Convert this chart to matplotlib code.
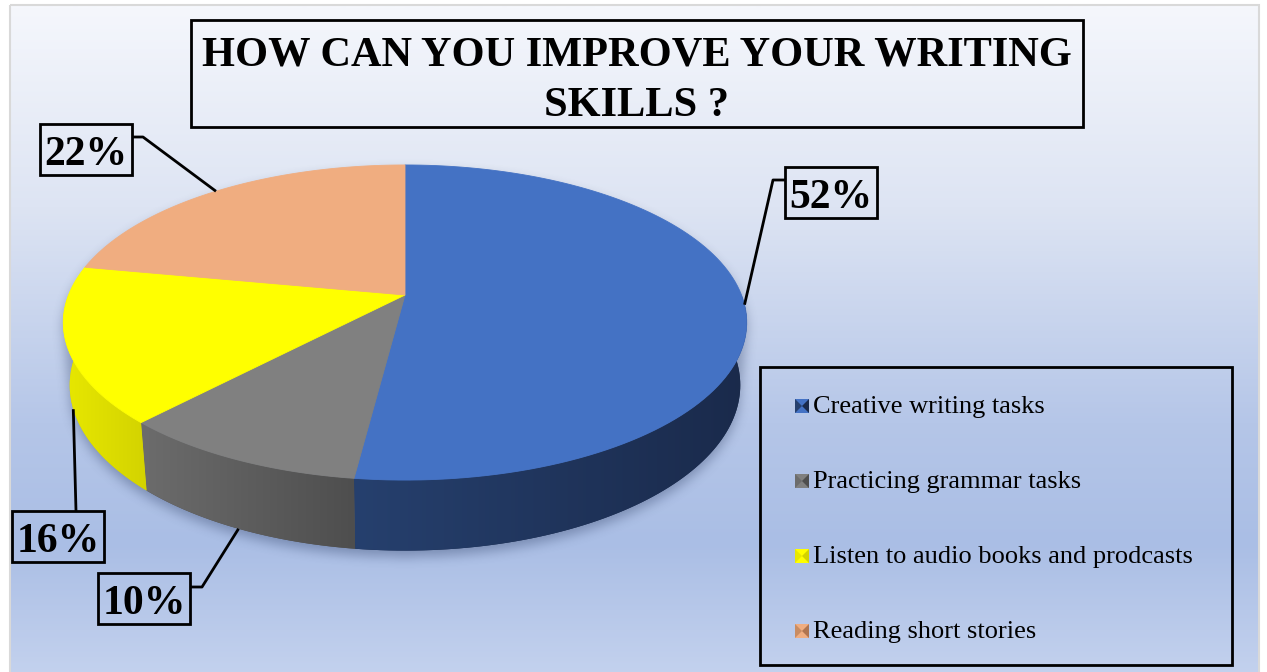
import numpy as np
import matplotlib.pyplot as plt
from matplotlib.patches import Polygon, Rectangle
from matplotlib.path import Path
from matplotlib.colors import LinearSegmentedColormap, to_rgb

plt.rcParams['font.family'] = ['Liberation Serif', 'DejaVu Serif']

# survey answers
categories = ['Creative writing tasks', 'Practicing grammar tasks',
              'Listen to audio books and prodcasts', 'Reading short stories']
shares = [52, 10, 16, 22]
pct_labels = [f'{v}%' for v in shares]
title_lines = ['HOW CAN YOU IMPROVE YOUR WRITING', 'SKILLS ?']

top_colors = ['#4472C4', '#808080', '#FFFF00', '#F0AD80']
side_light = ['#26406E', '#6C6C6C', '#E8E800', '#C98C62']
side_dark = ['#1A2A4B', '#4E4E4E', '#D3D300', '#B07550']

W, H = 1267, 672
fig = plt.figure(figsize=(W / 100, H / 100), dpi=100)
ax = fig.add_axes([0, 0, 1, 1])
ax.set_xlim(0, W)
ax.set_ylim(H, 0)
ax.axis('off')

# chart area background
bg = LinearSegmentedColormap.from_list('bg', [(0, '#F5F7FC'), (0.3, '#DDE4F3'),
                                              (0.62, '#B5C6E8'), (0.8, '#AABEE5'),
                                              (1, '#C4D2EE')])
ax.imshow(np.linspace(0, 1, 300)[:, None], cmap=bg, extent=(10, 1259, 680, 5),
          aspect='auto', interpolation='bilinear', zorder=0)
ax.add_patch(Rectangle((10, 5), 1249, 680, fill=False, ec='#D9D9D9', lw=1.5, zorder=1))

# perspective view of a tilted disc
CX, CY = 405, 295
ELEV = np.radians(27)
DIST = 5.10
FOC = 1716
THICK = 0.21


def project(phi, r=1.0, h=0.0):
    phi = np.radians(phi)
    x3 = r * np.sin(phi)
    w3 = r * np.cos(phi)
    z = w3 * np.cos(ELEV) - h * np.sin(ELEV) + DIST
    up = (w3 * np.sin(ELEV) + h * np.cos(ELEV)) / z
    return CX + FOC * x3 / z, CY - FOC * up


def box1d(a, r, axis):
    a = np.moveaxis(a, axis, 0)
    p = np.pad(a, ((r + 1, r), (0, 0)), mode='edge')
    c = np.cumsum(p, axis=0)
    return np.moveaxis((c[2 * r + 1:] - c[:-2 * r - 1]) / (2 * r + 1), 0, axis)


# soft drop shadow under the pie
back = np.linspace(260, 460, 200)
front = np.linspace(100, 260, 200)
bx, by = project(back)
fx, fy = project(front, h=-THICK)
outline = np.column_stack([np.r_[bx, fx], np.r_[by, fy] + 6])
gx, gy = np.meshgrid(np.arange(W) + 0.5, np.arange(H) + 0.5)
mask = Path(outline).contains_points(np.column_stack([gx.ravel(), gy.ravel()]))
mask = mask.reshape(H, W).astype(float)
for _ in range(3):
    mask = box1d(box1d(mask, 5, 0), 5, 1)
shadow = np.zeros((H, W, 4))
shadow[..., :3] = to_rgb('#1F2F55')
shadow[..., 3] = 0.35 * mask
ax.imshow(shadow, extent=(0, W, H, 0), interpolation='bilinear', zorder=2)

bounds = np.concatenate([[0], np.cumsum(shares)]) / sum(shares) * 360

for i in range(len(shares)):
    a0, a1 = bounds[i], bounds[i + 1]
    # front wall
    s0, s1 = max(a0, 90), min(a1, 270)
    if s0 < s1:
        ph = np.linspace(s0, s1, 80)
        tx, ty = project(ph)
        lx, ly = project(ph[::-1], h=-THICK)
        wall = Polygon(np.column_stack([np.r_[tx, lx], np.r_[ty, ly]]),
                       fc=side_dark[i], ec='none', zorder=4)
        ax.add_patch(wall)
        cm = LinearSegmentedColormap.from_list(f'side{i}', [side_light[i], side_dark[i]])
        xs = np.r_[tx, lx]
        ys = np.r_[ty, ly]
        im = ax.imshow(np.linspace(0, 1, 256)[None, :], cmap=cm,
                       extent=(xs.min(), xs.max(), ys.max(), ys.min()),
                       aspect='auto', interpolation='bilinear', zorder=4.5)
        im.set_clip_path(wall)
    # top face
    ph = np.linspace(a0, a1, 120)
    tx, ty = project(ph)
    ax.add_patch(Polygon(np.column_stack([np.r_[CX, tx], np.r_[CY, ty]]),
                         fc=top_colors[i], ec=top_colors[i], lw=0.6, zorder=5))

# title
ax.add_patch(Rectangle((191, 20), 892, 107, fill=False, ec='black', lw=2, zorder=7))
ax.text(637, 65, title_lines[0], ha='center', va='baseline', fontsize=30.5,
        fontweight='bold', zorder=8)
ax.text(637, 116, title_lines[1], ha='center', va='baseline', fontsize=30.5,
        fontweight='bold', zorder=8)

# data labels with leader lines
box_xy = [(785, 167), (98, 573), (12, 511), (40, 124)]
elbows = [[(785, 180), (773, 180)], [(190, 587), (202, 587)], [(76, 511)],
          [(132, 137), (143, 137)]]
anchor_depth = [0, 1, 1, 0]
for i, lab in enumerate(pct_labels):
    mid = (bounds[i] + bounds[i + 1]) / 2
    px, py = project(mid, h=-THICK * anchor_depth[i])
    pts = elbows[i] + [(px, py)]
    ax.plot([p[0] for p in pts], [p[1] for p in pts], color='black', lw=2,
            solid_capstyle='butt', zorder=7)
    x0, y0 = box_xy[i]
    ax.add_patch(Rectangle((x0, y0), 92, 51, fill=False, ec='black', lw=2, zorder=7))
    ax.text(x0 + 46, y0 + 41, lab, ha='center', va='baseline', fontsize=30,
            fontweight='bold', zorder=8)

# legend
ax.add_patch(Rectangle((760, 367), 472, 298, fill=False, ec='black', lw=2, zorder=7))
for i, name in enumerate(categories):
    base = 413 + 75 * i
    x0, x1 = 795, 809
    y0, y1 = base - 14, base
    xc, yc = (x0 + x1) / 2, (y0 + y1) / 2
    ax.add_patch(Polygon([(x0, y0), (x1, y0), (x1, y1), (x0, y1)], fc=top_colors[i],
                         ec='none', zorder=8))
    ax.add_patch(Polygon([(x0, y0), (xc, yc), (x0, y1)], fc=side_light[i], ec='none', zorder=8))
    ax.add_patch(Polygon([(x1, y0), (xc, yc), (x1, y1)], fc=side_dark[i], ec='none', zorder=8))
    ax.text(813, base, name, ha='left', va='baseline', fontsize=19, zorder=8)

fig.savefig('out.png', dpi=100, facecolor='white')
